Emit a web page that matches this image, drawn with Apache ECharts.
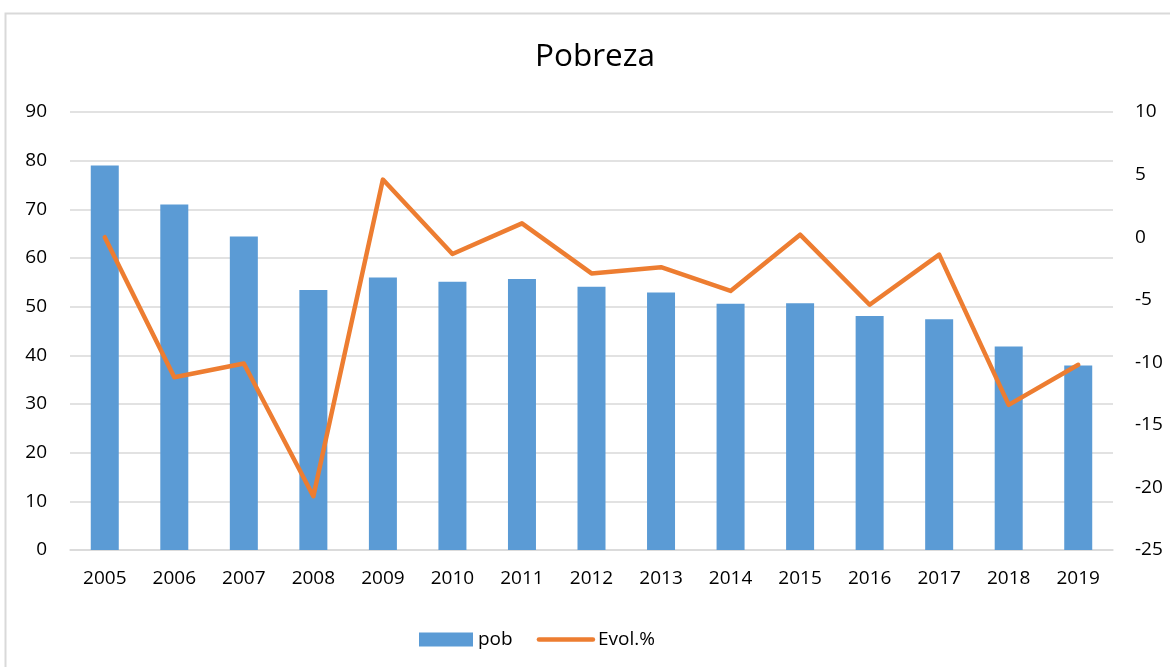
<!DOCTYPE html>
<html>
<head>
<meta charset="utf-8">
<script src="https://cdn.jsdelivr.net/npm/echarts@6/dist/echarts.min.js"></script>
<style>
html,body{margin:0;padding:0;background:#fff;}
#c{width:1170px;height:667px;}
</style>
</head>
<body>
<div id="c"></div>
<script>
const years = ['2005','2006','2007','2008','2009','2010','2011','2012','2013','2014','2015','2016','2017','2018','2019'];
const pob = [79.0, 71.0, 64.4, 53.4, 56.0, 55.1, 55.7, 54.1, 52.9, 50.6, 50.7, 48.1, 47.4, 41.8, 37.9];
const evol = [0.0, -11.2, -10.1, -20.7, 4.6, -1.35, 1.1, -2.9, -2.4, -4.3, 0.2, -5.4, -1.4, -13.4, -10.2];
const titleText = 'Pobreza';
const seriesNames = ['pob', 'Evol.%'];

const FONT = '"Open Sans", sans-serif';
const chart = echarts.init(document.getElementById('c'), null, {renderer: 'canvas'});
chart.setOption({
  animation: false,
  backgroundColor: '#ffffff',
  graphic: [{
    type: 'rect',
    shape: {x: 5.5, y: 13.5, width: 1200, height: 700},
    style: {fill: 'none', stroke: '#d9d9d9', lineWidth: 2},
    silent: true, z: -10
  }],
  title: {
    text: titleText,
    left: 535,
    top: 41,
    padding: 0,
    textStyle: {fontFamily: FONT, fontSize: 31.5, fontWeight: 'normal', color: '#000'}
  },
  legend: {
    left: 419,
    top: 630,
    padding: 0,
    itemWidth: 54,
    itemHeight: 14,
    itemGap: 24,
    textStyle: {fontFamily: FONT, fontSize: 19, color: '#000'},
    data: [
      {name: seriesNames[0], icon: 'rect'},
      {name: seriesNames[1],
       lineStyle: {width: 4.5, color: '#ed7d31', cap: 'round'},
       itemStyle: {color: 'rgba(0,0,0,0)', borderWidth: 0, borderColor: 'rgba(0,0,0,0)'}}
    ]
  },
  grid: {left: 70, right: 57, top: 112, bottom: 117, containLabel: false},
  xAxis: {
    type: 'category',
    data: years,
    axisLine: {show: true, lineStyle: {color: '#d9d9d9', width: 1.5}},
    axisTick: {show: false},
    axisLabel: {fontFamily: FONT, fontSize: 19, color: '#000', margin: 19}
  },
  yAxis: [{
    type: 'value',
    min: 0, max: 90, interval: 10,
    axisLine: {show: false},
    axisTick: {show: false},
    splitLine: {show: true, lineStyle: {color: '#d9d9d9', width: 1.5}},
    axisLabel: {fontFamily: FONT, fontSize: 19, color: '#000', margin: 23}
  }, {
    type: 'value',
    min: -25, max: 10, interval: 5,
    position: 'right',
    axisLine: {show: false},
    axisTick: {show: false},
    splitLine: {show: false},
    axisLabel: {fontFamily: FONT, fontSize: 19, color: '#000', margin: 22}
  }],
  series: [{
    name: seriesNames[0],
    type: 'bar',
    data: pob,
    barWidth: 28,
    itemStyle: {color: '#5b9bd5'},
    yAxisIndex: 0
  }, {
    name: seriesNames[1],
    type: 'line',
    data: evol,
    yAxisIndex: 1,
    symbol: 'none',
    lineStyle: {color: '#ed7d31', width: 4.5, cap: 'round', join: 'round'},
    itemStyle: {color: '#ed7d31'}
  }]
});
</script>
</body>
</html>
